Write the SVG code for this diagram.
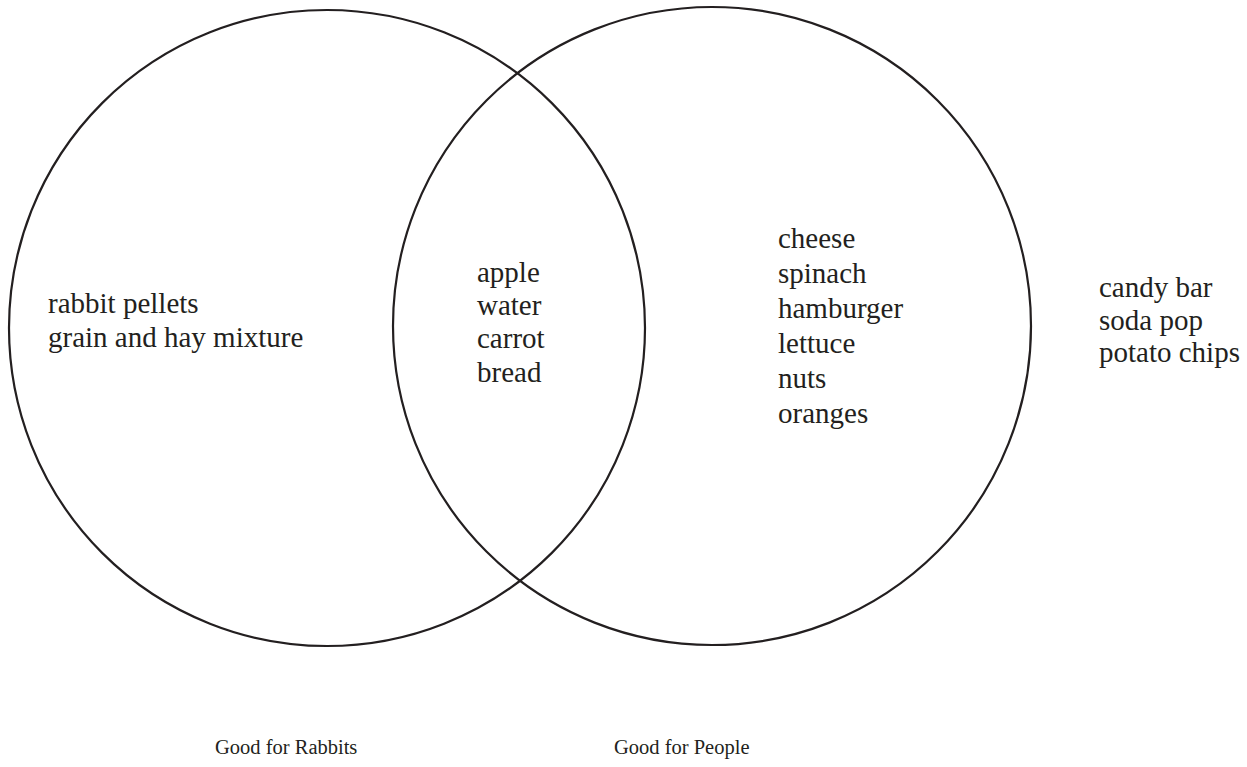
<svg xmlns="http://www.w3.org/2000/svg" width="1247" height="767" viewBox="0 0 1247 767">
<style>
.c{fill:none;stroke:#231f20;stroke-width:2.2}
text{font-family:"Liberation Serif","Times New Roman",serif;font-size:29px;fill:#231f20}
.lbl{font-size:20.5px}
</style>
<rect width="1247" height="767" fill="#fff"/>
<g id="circle-rabbits"><circle class="c" cx="327" cy="328" r="318"/></g>
<g id="circle-people"><circle class="c" cx="712" cy="326" r="319"/></g>
<g id="rabbits-only"><text x="48" y="313">rabbit pellets</text><text x="48" y="347">grain and hay mixture</text></g>
<g id="both"><text x="477" y="282">apple</text><text x="477" y="315">water</text><text x="477" y="348">carrot</text><text x="477" y="382">bread</text></g>
<g id="people-only"><text x="778" y="248">cheese</text><text x="778" y="283">spinach</text><text x="778" y="318">hamburger</text><text x="778" y="353">lettuce</text><text x="778" y="388">nuts</text><text x="778" y="423">oranges</text></g>
<g id="neither"><text x="1099" y="297">candy bar</text><text x="1099" y="330">soda pop</text><text x="1099" y="362">potato chips</text></g>
<g id="labels"><text class="lbl" x="215" y="754">Good for Rabbits</text><text class="lbl" x="614" y="754">Good for People</text></g>
</svg>
